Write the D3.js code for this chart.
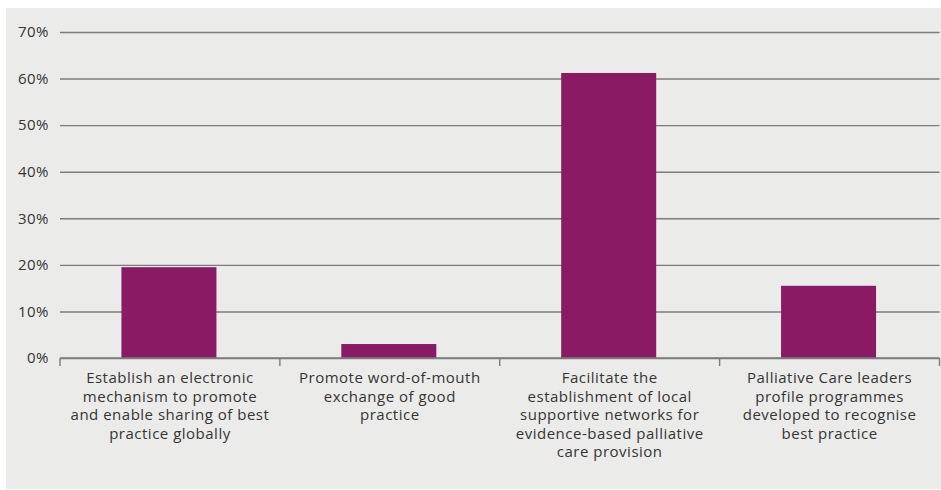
<!DOCTYPE html>
<html>
<head>
<meta charset="utf-8">
<script src="https://cdn.jsdelivr.net/npm/d3@7"></script>
<style>
  html, body { margin: 0; padding: 0; background: #ffffff; }
  svg { display: block; }
  text { font-family: "Open Sans", Lato, sans-serif; fill: #353535; }
</style>
</head>
<body>
<svg id="chart" width="941" height="490"></svg>
<script>
// Survey responses: share choosing each way of spreading best practice
const categories = [
  ["Establish an electronic", "mechanism to promote", "and enable sharing of best", "practice globally"],
  ["Promote word-of-mouth", "exchange of good", "practice"],
  ["Facilitate the", "establishment of local", "supportive networks for", "evidence-based palliative", "care provision"],
  ["Palliative Care leaders", "profile programmes", "developed to recognise", "best practice"]
];
const values = [19.5, 3.0, 61.2, 15.5];
const yTicks = [0, 10, 20, 30, 40, 50, 60, 70];

const svg = d3.select("#chart");
const W = 941;
const plot = { left: 60, right: 939.5, top: 32, bottom: 358 };

// panel background
svg.append("rect")
  .attr("x", 6).attr("y", 8)
  .attr("width", W - 6).attr("height", 481)
  .attr("fill", "#ebebea");

const x = d3.scaleBand()
  .domain(d3.range(categories.length))
  .range([plot.left, plot.right])
  .paddingInner(0)
  .paddingOuter(0);

const y = d3.scaleLinear().domain([0, 70]).range([plot.bottom, plot.top]);

// horizontal gridlines with percentage labels
const yAxis = d3.axisLeft(y)
  .tickValues(yTicks)
  .tickFormat(d => d + "%")
  .tickSize(-(plot.right - plot.left))
  .tickPadding(12);

const gy = svg.append("g")
  .attr("transform", `translate(${plot.left},0)`)
  .call(yAxis);
gy.select(".domain").remove();
gy.selectAll(".tick line")
  .attr("stroke", "#7c7c7c")
  .attr("stroke-width", 1.4);
gy.selectAll(".tick text")
  .attr("x", -11)
  .style("font-size", "15px")
  .style("letter-spacing", "0.5px")
  .style("font-family", "'Open Sans', sans-serif")
  .attr("fill", "#353535");

// bars
const barW = 95;
svg.append("g").selectAll("rect")
  .data(values)
  .join("rect")
  .attr("x", (d, i) => x(i) + x.bandwidth() / 2 - barW / 2 - 1)
  .attr("y", d => y(d))
  .attr("width", barW)
  .attr("height", d => y(0) - y(d))
  .attr("fill", "#8b1a65");

// category axis with boundary ticks
const gx = svg.append("g").attr("transform", `translate(0,${plot.bottom})`);
gx.append("line")
  .attr("x1", plot.left).attr("x2", plot.right)
  .attr("y1", 0).attr("y2", 0)
  .attr("stroke", "#7c7c7c").attr("stroke-width", 1.4);
const bounds = d3.range(categories.length + 1).map(i =>
  i < categories.length ? x(i) : x(categories.length - 1) + x.bandwidth());
gx.selectAll("line.bt")
  .data(bounds)
  .join("line")
  .attr("class", "bt")
  .attr("x1", d => d).attr("x2", d => d)
  .attr("y1", 0).attr("y2", 8)
  .attr("stroke", "#7c7c7c").attr("stroke-width", 1.4);

// wrapped category labels
const labels = gx.selectAll("text.cat")
  .data(categories)
  .join("text")
  .attr("class", "cat")
  .attr("text-anchor", "middle")
  .style("font-size", "15px")
  .style("letter-spacing", "0.5px")
  .attr("transform", (d, i) => `translate(${x(i) + x.bandwidth() / 2},25)`);
labels.selectAll("tspan")
  .data(d => d)
  .join("tspan")
  .attr("x", 0)
  .attr("dy", (d, j) => j === 0 ? 0 : 18.6)
  .text(d => d);
</script>
</body>
</html>
